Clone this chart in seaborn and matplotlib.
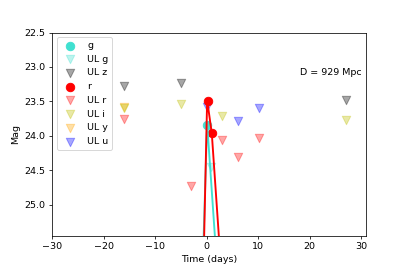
import numpy as np
import seaborn as sns
import matplotlib
matplotlib.use("Agg")
import matplotlib.pyplot as plt

# detections
g_t = [0.05]
g_mag = [23.84]
r_t = [0.2, 1.0]
r_mag = [23.50, 23.96]

# upper limits per filter
ul_g_t = [0.85]
ul_g_mag = [24.45]
ul_z_t = [-16.1, -5.0, 27.0]
ul_z_mag = [23.27, 23.23, 23.48]
ul_r_t = [-16.1, -3.0, 2.9, 6.0, 10.1]
ul_r_mag = [23.75, 24.73, 24.06, 24.30, 24.03]
ul_i_t = [-16.1, -5.0, 2.9, 27.0]
ul_i_mag = [23.59, 23.54, 23.71, 23.77]
ul_y_t = [-16.1]
ul_y_mag = [23.58]
ul_u_t = [0.05, 6.0, 10.1]
ul_u_mag = [23.58, 23.79, 23.59]

# model light curves
g_model_t = [-0.68, 0.1, 1.83]
g_model_mag = [25.7, 23.82, 25.7]
r_model_t = [-0.55, 0.1, 1.0, 2.6]
r_model_mag = [25.7, 23.48, 23.96, 25.7]

distance = 929

fig, ax = plt.subplots(figsize=(407 / 68, 271 / 68), dpi=68)
fig.subplots_adjust(left=0.128, right=0.9, top=0.88, bottom=0.13)

def det(t, m, c, lab):
    sns.scatterplot(x=t, y=m, marker='o', s=80, color=c, edgecolor=c,
                    linewidth=1, label=lab, ax=ax, zorder=3)

def ul(t, m, c, lab, z=2):
    sns.scatterplot(x=t, y=m, marker='v', s=80, color=c, edgecolor=c,
                    linewidth=1, alpha=0.35, label=lab, ax=ax, zorder=z)

det(g_t, g_mag, 'turquoise', 'g')
ul(ul_g_t, ul_g_mag, 'turquoise', 'UL g')
ul(ul_z_t, ul_z_mag, 'k', 'UL z')
det(r_t, r_mag, 'red', 'r')
ul(ul_r_t, ul_r_mag, 'red', 'UL r')
ul(ul_i_t, ul_i_mag, 'y', 'UL i')
ul(ul_y_t, ul_y_mag, 'orange', 'UL y', z=1.9)
ul(ul_u_t, ul_u_mag, 'blue', 'UL u')

sns.lineplot(x=g_model_t, y=g_model_mag, color='turquoise', lw=2,
             sort=False, legend=False, ax=ax, zorder=4)
sns.lineplot(x=r_model_t, y=r_model_mag, color='red', lw=2,
             sort=False, legend=False, ax=ax, zorder=4)

ax.text(0.79, 0.79, f'D = {distance} Mpc', transform=ax.transAxes)

ax.set_xlim(-30, 31)
ax.set_ylim(25.45, 22.5)
ax.set_xticks(np.arange(-30, 31, 10))
ax.set_yticks(np.arange(22.5, 25.01, 0.5))
ax.set_xlabel('Time (days)')
ax.set_ylabel('Mag')
ax.legend(loc='upper left')

fig.savefig('out.png', dpi=68)
